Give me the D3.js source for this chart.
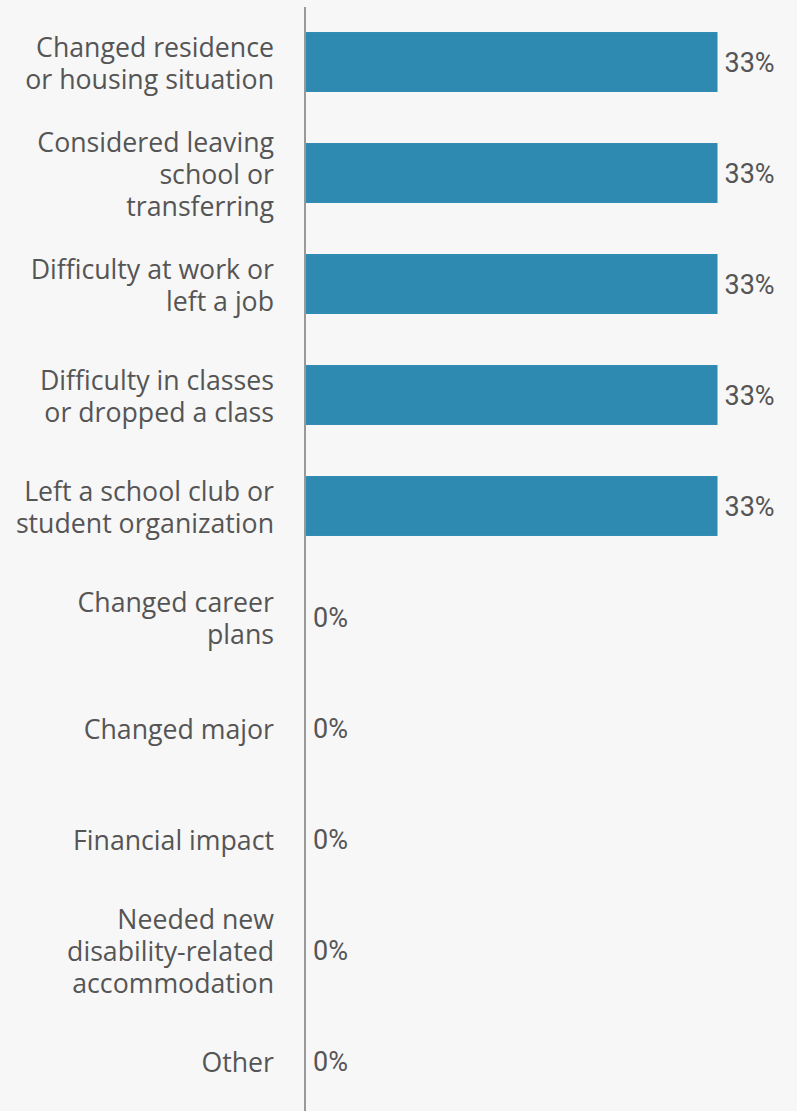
<!DOCTYPE html>
<html>
<head>
<meta charset="utf-8">
<script src="https://cdn.jsdelivr.net/npm/d3@7"></script>
<style>
  html, body { margin: 0; padding: 0; background: #f7f7f7; }
  svg { display: block; }
</style>
</head>
<body>
<svg id="chart" width="797" height="1111"></svg>
<script>
// Share of respondents reporting each impact
const categories = [
  "Changed residence\nor housing situation",
  "Considered leaving\nschool or\ntransferring",
  "Difficulty at work or\nleft a job",
  "Difficulty in classes\nor dropped a class",
  "Left a school club or\nstudent organization",
  "Changed career\nplans",
  "Changed major",
  "Financial impact",
  "Needed new\ndisability-related\naccommodation",
  "Other"
];
const values = [33, 33, 33, 33, 33, 0, 0, 0, 0, 0];
const valueLabels = ["33%", "33%", "33%", "33%", "33%", "0%", "0%", "0%", "0%", "0%"];

const W = 797, H = 1111;
const svg = d3.select("#chart");

svg.append("rect").attr("width", W).attr("height", H).attr("fill", "#f7f7f7");

const y = d3.scaleBand()
  .domain(categories)
  .range([6.5, 1116.5])
  .paddingInner(0.46)
  .paddingOuter(0.23);

const x = d3.scaleLinear().domain([0, 33]).range([306, 717.5]);

const data = categories.map((c, i) => ({ cat: c, value: values[i], label: valueLabels[i] }));

// Bars
svg.append("g").selectAll("rect")
  .data(data)
  .join("rect")
  .attr("x", x(0))
  .attr("y", d => y(d.cat))
  .attr("width", d => x(d.value) - x(0))
  .attr("height", y.bandwidth())
  .attr("fill", "#2e8ab0");

// Value labels
svg.append("g").selectAll("text")
  .data(data)
  .join("text")
  .attr("x", d => x(d.value) + 7)
  .attr("y", d => y(d.cat) + y.bandwidth() / 2 + 1)
  .attr("dominant-baseline", "central")
  .attr("font-family", "Roboto, sans-serif")
  .attr("font-size", 27)
  .attr("fill", "#555555")
  .text(d => d.label);

// Category labels (multi-line, right aligned)
const lineH = 32;
const catG = svg.append("g");
data.forEach(d => {
  const lines = d.cat.split("\n");
  const cy = y(d.cat) + y.bandwidth() / 2;
  const t = catG.append("text")
    .attr("text-anchor", "end")
    .attr("font-family", "'Open Sans', sans-serif")
    .attr("font-size", 26.7)
    .attr("fill", "#555555");
  lines.forEach((ln, j) => {
    t.append("tspan")
      .attr("x", 274)
      .attr("y", cy + (j - (lines.length - 1) / 2) * lineH)
      .attr("dominant-baseline", "central")
      .text(ln);
  });
});

// Vertical axis line
svg.append("line")
  .attr("x1", 305).attr("x2", 305)
  .attr("y1", 7).attr("y2", H)
  .attr("stroke", "#999999")
  .attr("stroke-width", 2);
</script>
</body>
</html>
